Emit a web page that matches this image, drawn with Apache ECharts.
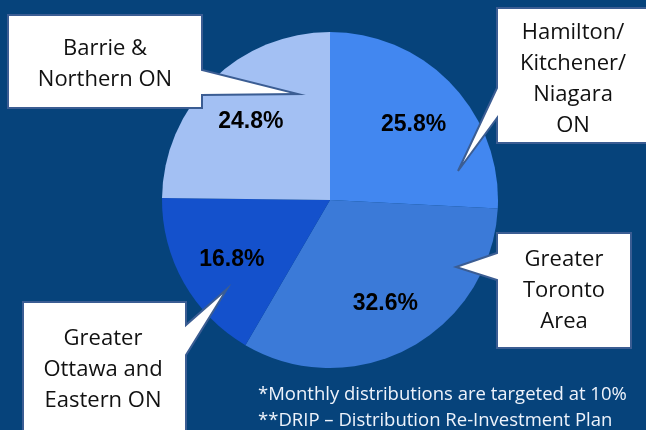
<!DOCTYPE html>
<html>
<head>
<meta charset="utf-8">
<style>
html,body{margin:0;padding:0;background:#06437b;}
#chart{width:646px;height:430px;}
</style>
<script src="https://cdn.jsdelivr.net/npm/echarts@6/dist/echarts.min.js"></script>
</head>
<body>
<div id="chart"></div>
<script>
var categories = ['Hamilton/\nKitchener/\nNiagara\nON', 'Greater\nToronto\nArea', 'Greater\nOttawa and\nEastern ON', 'Barrie &\nNorthern ON'];
var values = [25.8, 32.6, 16.8, 24.8];
var colors = ['#4287f0', '#3b7ad8', '#1451cc', '#a3c0f3'];
var footnotes = ['*Monthly distributions are targeted at 10%', '**DRIP \u2013 Distribution Re-Investment Plan'];

var data = categories.map(function (c, i) { return { name: c, value: values[i], itemStyle: { color: colors[i] } }; });
var labelData = categories.map(function (c, i) { return { name: c, value: values[i] }; });

var BORDER = '#3b5d93';
function callout(points, text, cx, cy) {
  return [
    { type: 'polygon', shape: { points: points }, style: { fill: '#ffffff', stroke: BORDER, lineWidth: 2 }, z: 10 },
    { type: 'text', x: cx, y: cy, style: { text: text, fill: '#111111', font: '22px "Open Sans"', align: 'center', verticalAlign: 'middle', lineHeight: 31 }, z: 11 }
  ];
}

var graphics = []
  .concat(callout([[8,15],[202,15],[202,70],[298,94],[202,95],[202,108],[8,108]], categories[3], 105, 64))
  .concat(callout([[497,8],[650,8],[650,143],[497,143],[497,118],[458,171],[497,88]], categories[0], 573, 79))
  .concat(callout([[497,233],[631,233],[631,348],[497,348],[497,280],[456,267],[497,253]], categories[1], 564, 291))
  .concat(callout([[23,302],[186,302],[186,325],[227,289],[186,355],[186,440],[23,440]], categories[2], 103, 370));
graphics.push({ type: 'text', x: 258, y: 395, style: { text: footnotes[0], fill: '#eef3fb', font: '18.5px "Open Sans"', align: 'left', verticalAlign: 'middle' }, z: 11 });
graphics.push({ type: 'text', x: 258, y: 421, style: { text: footnotes[1], fill: '#eef3fb', font: '18.5px "Open Sans"', align: 'left', verticalAlign: 'middle' }, z: 11 });

var chart = echarts.init(document.getElementById('chart'), null, { renderer: 'canvas' });
chart.setOption({
  backgroundColor: '#06437b',
  animation: false,
  series: [
    {
      type: 'pie', center: [330, 200], radius: 168, startAngle: 90, clockwise: true,
      silent: true, label: { show: false }, labelLine: { show: false },
      itemStyle: { borderWidth: 0 }, data: data
    },
    {
      type: 'pie', center: [331, 203], radius: [54, 168], startAngle: 90, clockwise: true,
      silent: true, labelLine: { show: false },
      itemStyle: { color: 'rgba(0,0,0,0)', borderWidth: 0 },
      label: { show: true, position: 'inside', formatter: function (p) { return p.value.toFixed(1) + '%'; },
               color: '#000000', fontFamily: '"Liberation Sans", Arial, sans-serif', fontWeight: 'bold', fontSize: 23 },
      data: labelData
    }
  ],
  graphic: graphics
});
</script>
</body>
</html>
